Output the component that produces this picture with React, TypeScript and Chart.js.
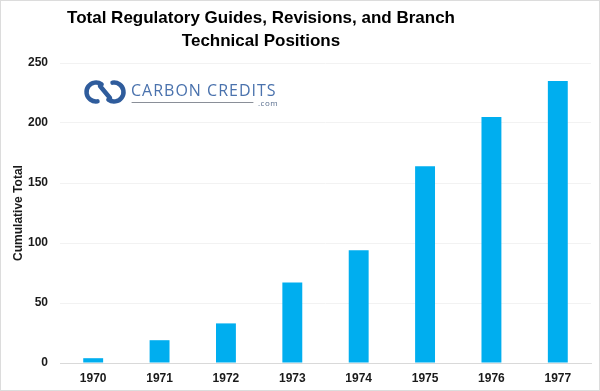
import React, { useEffect, useRef } from "react";
import { Chart, registerables } from "chart.js";

Chart.register(...registerables);

const years = ["1970", "1971", "1972", "1973", "1974", "1975", "1976", "1977"];
const cumulativeTotals = [4, 19, 33, 67, 94, 164, 205, 235];
const yTicks = [0, 50, 100, 150, 200, 250];
const titleLines = ["Total Regulatory Guides, Revisions, and Branch", "Technical Positions"];
const yAxisTitle = "Cumulative Total";
const logoText = "CARBON CREDITS";
const logoSub = ".com";

const FONT = "'Liberation Sans', Arial, Helvetica, sans-serif";

const decorPlugin = {
  id: "decor",
  beforeDatasetsDraw(chart: any) {
    const ctx = chart.ctx;
    ctx.save();
    // icon: two interlocking loops
    ctx.strokeStyle = "#2f5c9c";
    ctx.lineWidth = 4.5;
    ctx.lineCap = "round";
    const cy = 92;
    ctx.beginPath();
    ctx.arc(96, cy, 9.5, -Math.PI * 0.3, Math.PI * 0.45, true);
    ctx.stroke();
    ctx.beginPath();
    ctx.arc(114, cy, 9.5, Math.PI * 0.7, -Math.PI * 0.55, true);
    ctx.stroke();
    ctx.beginPath();
    ctx.moveTo(100, cy - 6);
    ctx.lineTo(110, cy + 6);
    ctx.stroke();
    // text
    ctx.fillStyle = "#4a72ad";
    ctx.font = `16px 'Open Sans', 'Liberation Sans', sans-serif`;
    try {
      (ctx as any).letterSpacing = "1px";
    } catch (e) {}
    ctx.textBaseline = "alphabetic";
    ctx.textAlign = "left";
    ctx.fillText(logoText, 131, 96);
    try {
      (ctx as any).letterSpacing = "0px";
    } catch (e) {}
    ctx.strokeStyle = "#8a8f98";
    ctx.lineWidth = 1;
    ctx.beginPath();
    ctx.moveTo(132, 102.5);
    ctx.lineTo(253, 102.5);
    ctx.stroke();
    ctx.fillStyle = "#5a6f8f";
    ctx.font = `8px 'Open Sans', sans-serif`;
    try {
      (ctx as any).letterSpacing = "0.5px";
    } catch (e) {}
    ctx.fillText(logoSub, 258, 106);
    ctx.restore();
  },
  afterDraw(chart: any) {
    const ctx = chart.ctx;
    ctx.save();
    ctx.fillStyle = "#000";
    ctx.font = `bold 17px ${FONT}`;
    ctx.textAlign = "center";
    ctx.textBaseline = "middle";
    ctx.fillText(titleLines[0], 261, 18);
    ctx.fillText(titleLines[1], 261, 41);
    ctx.strokeStyle = "#dcdcdc";
    ctx.lineWidth = 1;
    ctx.strokeRect(0.5, 0.5, chart.width - 1, chart.height - 1);
    ctx.restore();
  },
};

export default function App() {
  const canvasRef = useRef<HTMLCanvasElement | null>(null);

  useEffect(() => {
    document.body.style.margin = "0";
    const canvas = canvasRef.current;
    if (!canvas) return;
    const chart = new Chart(canvas, {
      type: "bar",
      data: {
        labels: years,
        datasets: [
          {
            label: yAxisTitle,
            data: cumulativeTotals,
            backgroundColor: "#00aeef",
            borderWidth: 0,
            barPercentage: 0.6,
            categoryPercentage: 0.5,
          },
        ],
      },
      options: {
        animation: false,
        responsive: false,
        maintainAspectRatio: false,
        layout: { padding: { left: 11, right: 9, top: 63, bottom: 0 } },
        plugins: {
          legend: { display: false },
          tooltip: { enabled: false },
          title: { display: false },
        },
        scales: {
          x: {
            grid: { display: false, drawTicks: false },
            border: { display: true, color: "#d9d9d9" },
            ticks: {
              color: "#1a1a1a",
              font: { family: FONT, size: 12, weight: "bold" },
              padding: 8,
            },
            afterFit(scale: any) {
              scale.height = 28;
            },
          },
          y: {
            min: 0,
            max: 250,
            afterBuildTicks(scale: any) {
              scale.ticks = yTicks.map((v) => ({ value: v }));
            },
            grid: { color: "#f2f2f2", drawTicks: false },
            border: { display: false },
            ticks: {
              color: "#1a1a1a",
              font: { family: FONT, size: 12, weight: "bold" },
              padding: 12,
            },
            title: {
              display: true,
              text: yAxisTitle,
              color: "#1a1a1a",
              font: { family: FONT, size: 12, weight: "bold" },
              padding: { top: 0, bottom: 0 },
            },
            afterFit(scale: any) {
              scale.width = 49;
            },
          },
        },
      },
      plugins: [decorPlugin],
    } as any);
    return () => chart.destroy();
  }, []);

  return <canvas ref={canvasRef} width={600} height={391} style={{ display: "block" }} />;
}
